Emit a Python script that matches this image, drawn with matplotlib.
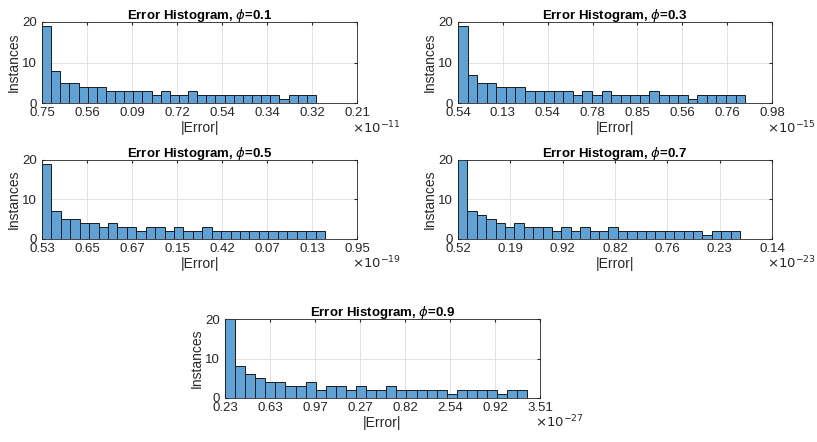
import matplotlib
matplotlib.use("Agg")
import matplotlib.pyplot as plt
import numpy as np

plt.rcParams['font.family'] = ['Liberation Sans', 'DejaVu Sans']

phis = ["0.1", "0.3", "0.5", "0.7", "0.9"]
exponents = ["-11", "-15", "-19", "-23", "-27"]

counts_01 = [19, 8, 5, 5, 4, 4, 4, 3, 3, 3, 3, 3, 2, 3, 2, 2, 3, 2, 2, 2, 2, 2, 2, 2, 2, 2, 1, 2, 2, 2]
counts_03 = [19, 7, 5, 5, 4, 4, 4, 3, 3, 3, 3, 3, 2, 3, 2, 3, 2, 2, 2, 2, 3, 2, 2, 2, 1, 2, 2, 2, 2, 2]
counts_05 = [19, 7, 5, 5, 4, 4, 3, 4, 3, 3, 2, 3, 3, 2, 3, 2, 2, 3, 2, 2, 2, 2, 2, 2, 2, 2, 2, 2, 2, 2]
counts_07 = [21, 7, 6, 5, 4, 3, 4, 3, 3, 3, 2, 3, 2, 3, 2, 2, 3, 2, 2, 2, 2, 2, 2, 2, 2, 2, 1, 2, 2, 2]
counts_09 = [21, 8, 6, 5, 4, 4, 3, 3, 4, 2, 3, 3, 2, 3, 2, 2, 3, 2, 2, 2, 2, 2, 1, 2, 2, 2, 2, 1, 2, 2]

labels_01 = ["0.75", "0.56", "0.09", "0.72", "0.54", "0.34", "0.32", "0.21"]
labels_03 = ["0.54", "0.13", "0.54", "0.78", "0.85", "0.56", "0.76", "0.98"]
labels_05 = ["0.53", "0.65", "0.67", "0.15", "0.42", "0.07", "0.13", "0.95"]
labels_07 = ["0.52", "0.19", "0.92", "0.82", "0.76", "0.23", "0.14"]
labels_09 = ["0.23", "0.63", "0.97", "0.27", "0.82", "2.54", "0.92", "3.51"]

all_counts = [counts_01, counts_03, counts_05, counts_07, counts_09]
all_labels = [labels_01, labels_03, labels_05, labels_07, labels_09]
# total axis width in bar units (axis span / bar width)
spans = [34.5, 32.8, 33.4, 33.4, 31.25]

W, H = 817, 442
# axes boxes in pixels: left, top, right, bottom
boxes = [(42, 22, 357, 103), (458, 22, 772, 103),
         (42, 160, 357, 239), (458, 160, 772, 239),
         (225, 319, 540, 398)]

fig = plt.figure(figsize=(W / 100, H / 100), dpi=100)
for counts, labels, span, box, phi, ex in zip(all_counts, all_labels, spans, boxes, phis, exponents):
    l, t, r, b = box
    ax = fig.add_axes([l / W, 1 - b / H, (r - l) / W, (b - t) / H])
    x = np.arange(len(counts))
    ax.bar(x, counts, width=1.0, align='edge', color='#5fa3d6', edgecolor='#1a1a1a', linewidth=0.7)
    ax.set_xlim(0, span)
    ax.set_ylim(0, 20)
    ticks = np.linspace(0, span, len(labels))
    ax.set_xticks(ticks)
    ax.set_xticklabels(labels)
    ax.set_yticks([0, 10, 20])
    ax.grid(True, color='#dddddd', linewidth=0.6)
    ax.set_axisbelow(True)
    ax.tick_params(labelsize=9.5, colors='#262626', length=2, direction='in', top=True, right=True)
    ax.tick_params(axis='x', pad=3)
    for s in ax.spines.values():
        s.set_color('#262626')
        s.set_linewidth(0.6)
    ax.set_title(r"Error Histogram, $\phi$=" + phi, fontsize=9.5, fontweight='bold', pad=2)
    ax.set_xlabel("|Error|", fontsize=10, labelpad=1, color='#262626')
    ax.set_ylabel("Instances", fontsize=10, labelpad=1, color='#262626')
    ax.text(0.985, -0.2, r"$\times10^{" + ex + "}$", transform=ax.transAxes, fontsize=9.5,
            ha='left', va='top', color='#262626')

fig.savefig("out.png", dpi=100)
